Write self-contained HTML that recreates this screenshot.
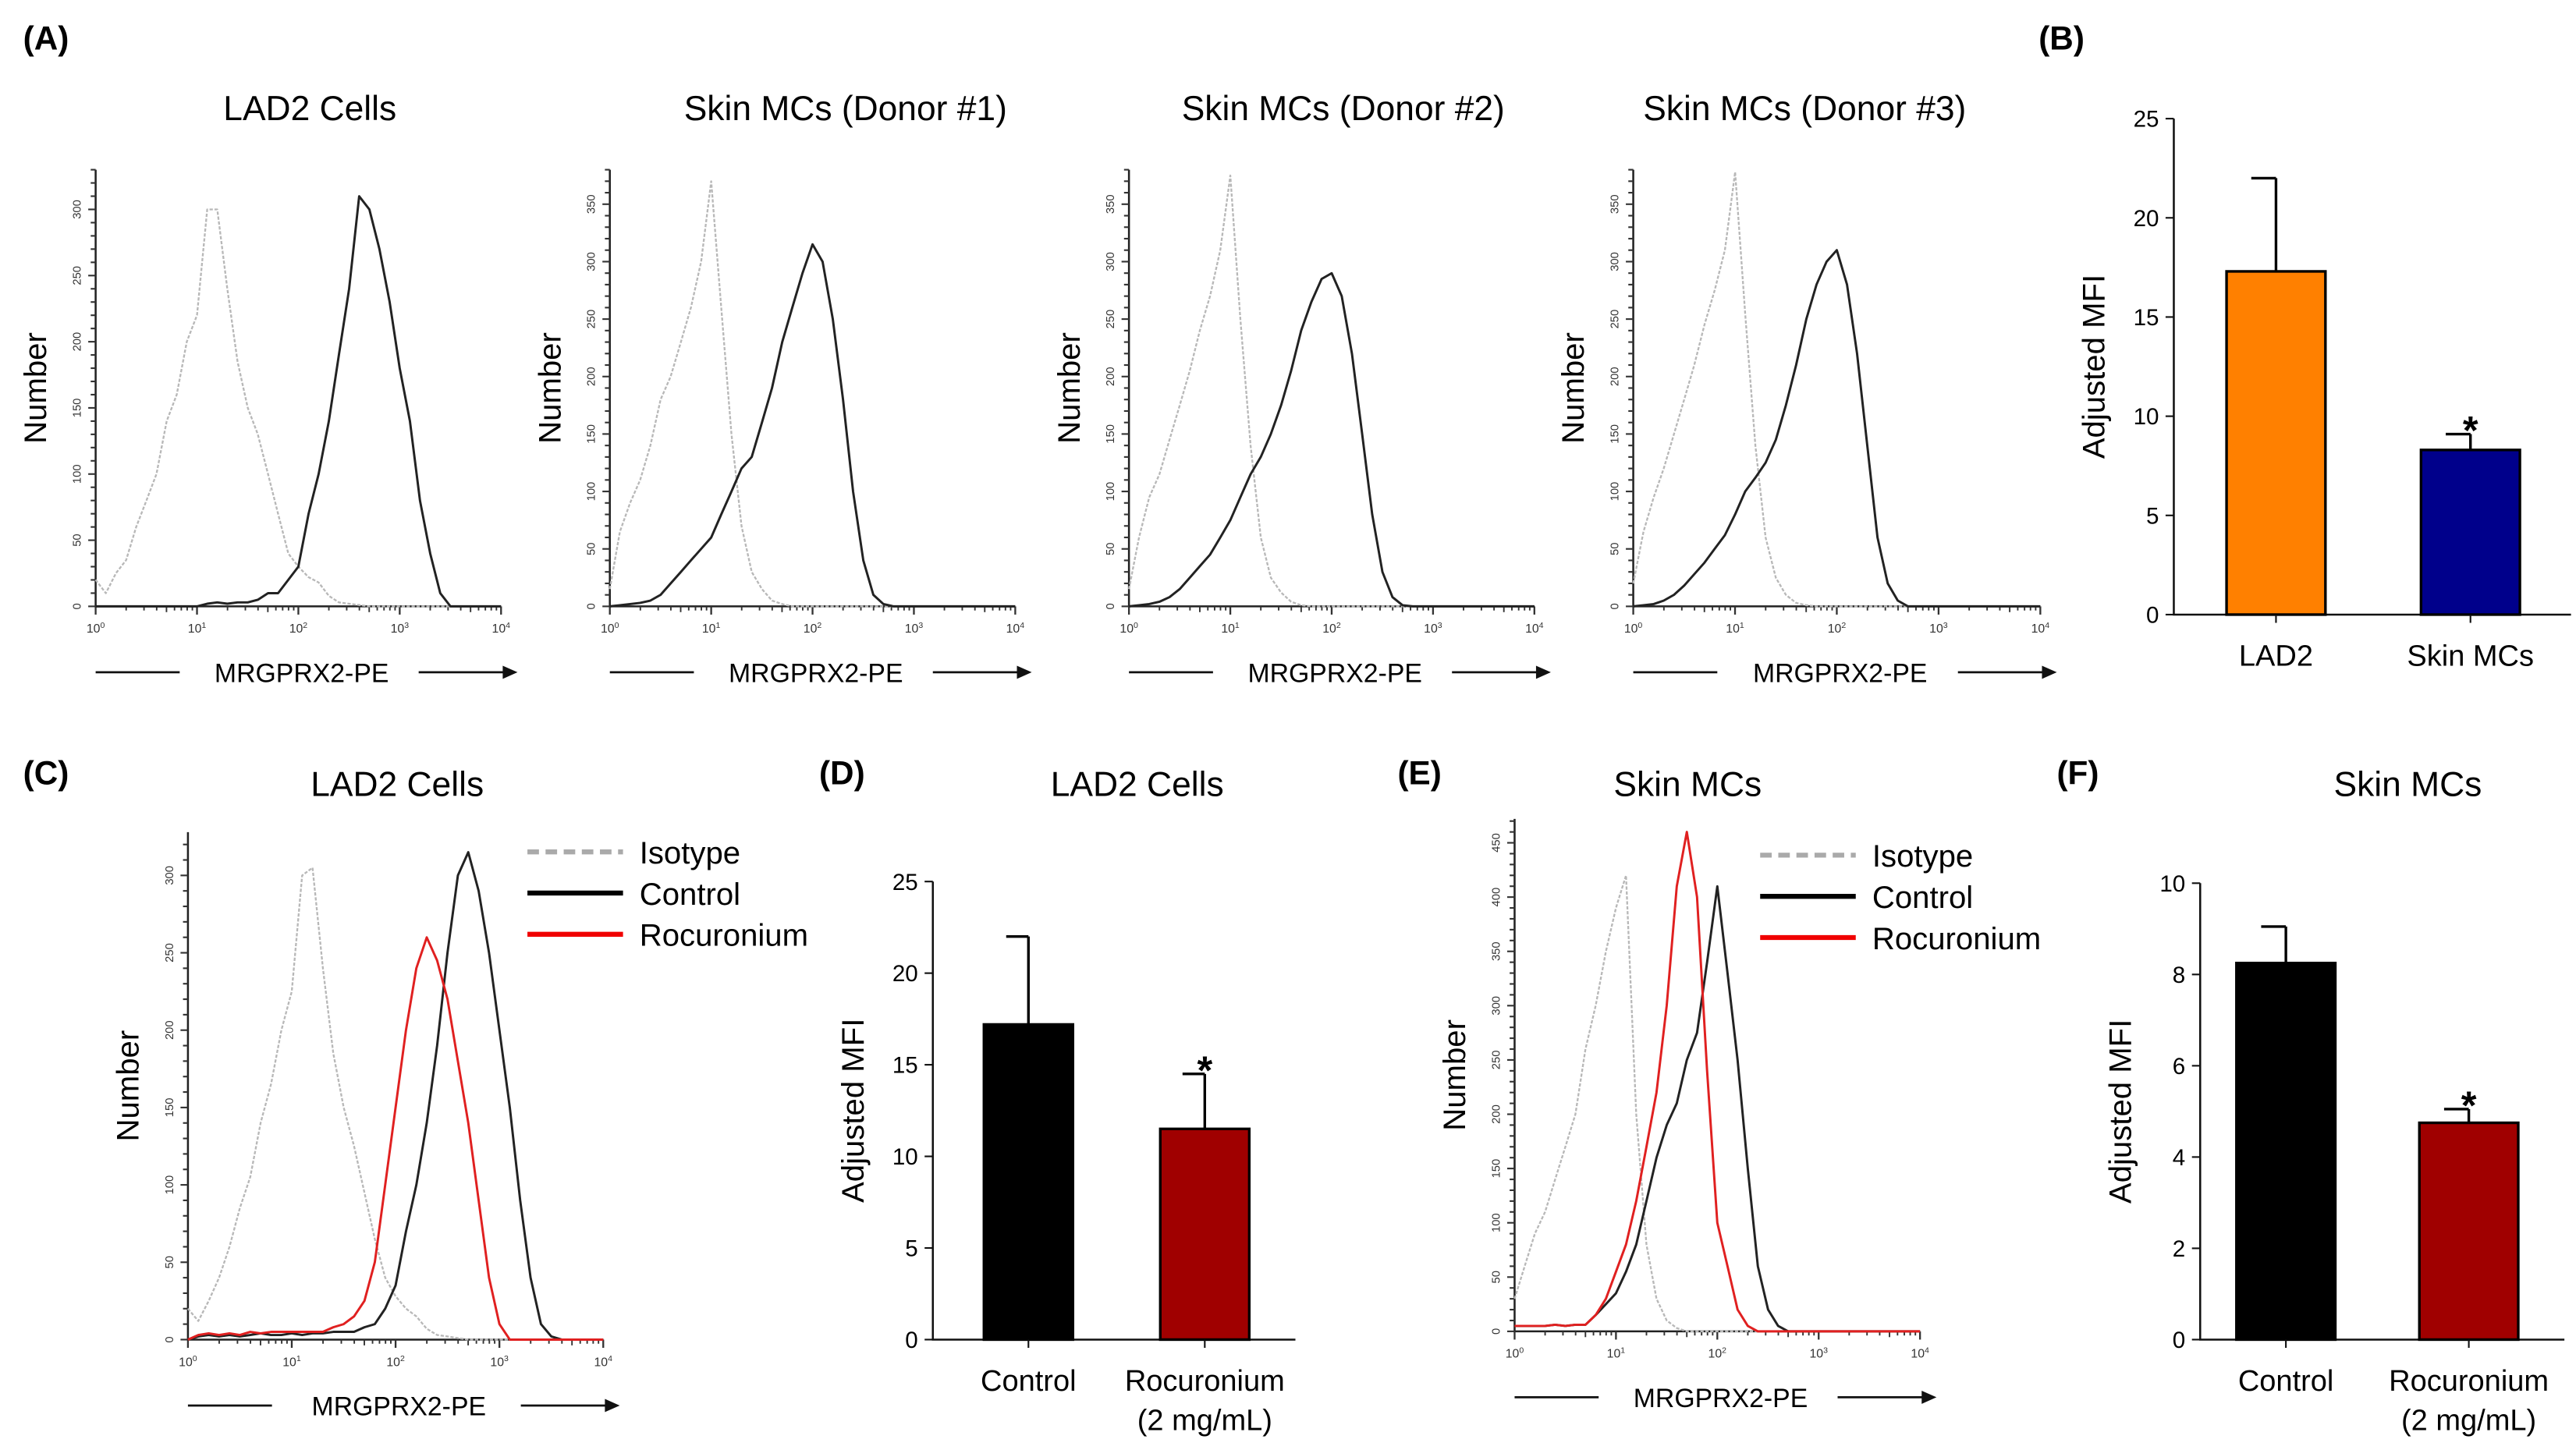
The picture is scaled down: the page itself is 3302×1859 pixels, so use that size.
<!DOCTYPE html>
<html><head><meta charset="utf-8"><title>MRGPRX2 figure</title>
<style>html,body{margin:0;padding:0;background:#fff}svg{display:block}text{font-family:"Liberation Sans",Arial,sans-serif}</style>
</head><body>
<svg id="fig" xmlns="http://www.w3.org/2000/svg" width="3302" height="1859" viewBox="0 0 1563 880">
<g id="static">
<text x="14" y="30" font-size="20" font-weight="bold">(A)</text>
<text x="1237" y="30" font-size="20" font-weight="bold">(B)</text>
<text x="14" y="476" font-size="20" font-weight="bold">(C)</text>
<text x="497" y="476" font-size="20" font-weight="bold">(D)</text>
<text x="848" y="476" font-size="20" font-weight="bold">(E)</text>
<text x="1248" y="476" font-size="20" font-weight="bold">(F)</text>
<text x="188" y="73" font-size="21" text-anchor="middle">LAD2 Cells</text>
<text x="513" y="73" font-size="21" text-anchor="middle">Skin MCs (Donor #1)</text>
<text x="815" y="73" font-size="21" text-anchor="middle">Skin MCs (Donor #2)</text>
<text x="1095" y="73" font-size="21" text-anchor="middle">Skin MCs (Donor #3)</text>
<text x="241" y="483" font-size="21" text-anchor="middle">LAD2 Cells</text>
<text x="690" y="483" font-size="21" text-anchor="middle">LAD2 Cells</text>
<text x="1024" y="483" font-size="21" text-anchor="middle">Skin MCs</text>
<text x="1461" y="483" font-size="21" text-anchor="middle">Skin MCs</text>
</g>
</svg>
<script>
const A1_iso=[20,10,25,35,60,80,100,140,160,200,220,300,300,240,185,150,130,100,70,40,30,22,18,8,3,2,1,0,0,0,0,0,0,0,0,0,0,0,0,0,0];
const A1_ctl=[0,0,0,0,0,0,0,0,0,0,0,2,3,2,3,3,5,10,10,20,30,70,100,140,190,240,310,300,270,230,180,140,80,40,10,0,0,0,0,0,0];
const A2_iso=[15,65,90,110,140,180,200,230,260,300,370,260,150,70,30,15,5,2,0,0,0,0,0,0,0,0,0,0,0,0,0,0,0,0,0,0,0,0,0,0,0];
const A2_ctl=[0,1,2,3,5,10,20,30,40,50,60,80,100,120,130,160,190,230,260,290,315,300,250,180,100,40,10,2,0,0,0,0,0,0,0,0,0,0,0,0,0];
const A3_iso=[15,60,95,115,145,175,205,240,270,310,375,250,140,60,25,12,4,1,0,0,0,0,0,0,0,0,0,0,0,0,0,0,0,0,0,0,0,0,0,0,0];
const A3_ctl=[0,1,2,4,8,15,25,35,45,60,75,95,115,130,150,175,205,240,265,285,290,270,220,150,80,30,8,1,0,0,0,0,0,0,0,0,0,0,0,0,0];
const A4_iso=[20,65,95,120,150,180,210,245,275,310,378,255,140,60,25,10,3,1,0,0,0,0,0,0,0,0,0,0,0,0,0,0,0,0,0,0,0,0,0,0,0];
const A4_ctl=[0,1,2,5,10,18,28,38,50,62,80,100,112,125,145,175,210,250,280,300,310,280,220,140,60,20,5,0,0,0,0,0,0,0,0,0,0,0,0,0,0];
const C_iso=[20,12,25,40,60,85,105,140,165,200,225,300,305,240,185,150,125,95,65,40,28,20,15,7,3,2,1,0,0,0,0,0,0,0,0,0,0,0,0,0,0];
const C_ctl=[0,2,3,2,3,2,3,4,3,3,4,3,4,4,5,5,5,8,10,20,35,70,100,140,190,250,300,315,290,250,200,150,90,40,10,2,0,0,0,0,0];
const C_roc=[0,3,4,3,4,3,5,4,5,5,5,5,5,5,8,10,15,25,50,100,150,200,240,260,245,220,180,140,90,40,10,0,0,0,0,0,0,0,0,0,0];
const E_iso=[30,60,90,110,140,170,200,260,300,350,390,420,200,80,30,10,3,0,0,0,0,0,0,0,0,0,0,0,0,0,0,0,0,0,0,0,0,0,0,0,0];
const E_ctl=[5,5,5,5,6,5,6,6,15,25,35,55,80,120,160,190,210,250,275,340,410,330,250,150,60,20,5,0,0,0,0,0,0,0,0,0,0,0,0,0,0];
const E_roc=[5,5,5,5,6,5,6,6,15,30,55,80,120,170,220,300,410,460,400,240,100,60,20,5,0,0,0,0,0,0,0,0,0,0,0,0,0,0,0,0,0];
const B_cats=["LAD2","Skin MCs"], B_vals=[17.3,8.3], B_errs=[4.7,0.8];
const D_cats=["Control","Rocuronium"], D_vals=[17.2,11.5], D_errs=[4.8,3.0];
const F_cats=["Control","Rocuronium"], F_vals=[8.25,4.75], F_errs=[0.8,0.3];
const B_ticks=[0,5,10,15,20,25], D_ticks=[0,5,10,15,20,25], F_ticks=[0,2,4,6,8,10];
const X_decades=[0,1,2,3,4];

const NS="http://www.w3.org/2000/svg", svg=document.getElementById('fig');
function mk(tag,attrs,parent,txt){const e=document.createElementNS(NS,tag);for(const k in attrs)e.setAttribute(k,attrs[k]);if(txt!==undefined)e.textContent=txt;(parent||svg).appendChild(e);return e;}

function hist(p){
  const g=mk('g',{});
  
  
  const dec=(p.x1-p.x0)/4, ppc=(p.base-p.top)/p.ymax;
  const X=l=>p.x0+l*dec, Y=v=>p.base-v*ppc;
  const ax=mk('path',{d:`M${p.x0},${p.top}V${p.base}H${p.x1}`,stroke:'#222','stroke-width':1.2,fill:'none'},g);
  
  
  for(let v=0;v<=p.ymax;v+=10){const maj=v%50===0;mk('line',{x1:p.x0-(maj?4.5:3),x2:p.x0,y1:Y(v),y2:Y(v),stroke:'#333','stroke-width':1},g);
    if(maj){const t=mk('text',{x:0,y:0,'font-size':7,'text-anchor':'middle',fill:'#333',transform:`translate(${p.x0-9},${Y(v)}) rotate(-90)`},g,String(v));
      
      }}
  X_decades.forEach(d=>{mk('line',{x1:X(d),x2:X(d),y1:p.base,y2:p.base+5,stroke:'#333','stroke-width':1.1},g);
    const t=mk('text',{x:X(d),y:p.base+16,'font-size':7.5,'text-anchor':'middle',fill:'#333'},g);
    
    
    mk('tspan',{},t,'10');mk('tspan',{dy:-3,'font-size':5},t,String(d));
    if(d<4)for(let m=2;m<10;m++){const xx=X(d+Math.log10(m));mk('line',{x1:xx,x2:xx,y1:p.base,y2:p.base+(m===5?3.5:2.5),stroke:'#333','stroke-width':0.9},g);}});
  const yl=mk('text',{x:0,y:0,'font-size':19,'text-anchor':'middle',transform:`translate(${p.x0-30},${(p.base+p.top)/2}) rotate(-90)`},g,'Number');
  
  
  const ly=p.base+40;
  mk('line',{x1:p.x0,x2:p.x0+51,y1:ly,y2:ly,stroke:'#111','stroke-width':1.3},g);
  mk('line',{x1:p.x1-50,x2:p.x1+2,y1:ly,y2:ly,stroke:'#111','stroke-width':1.3},g);
  mk('path',{d:`M${p.x1+10},${ly}l-9,-4v8z`,fill:'#111'},g);
  const xl=mk('text',{x:(p.x0+p.x1)/2+2,y:ly+6,'font-size':16,'text-anchor':'middle'},g,'MRGPRX2-PE');
  
  
  p.series.forEach(s=>{const pts=s.vals.map((v,i)=>`${X(i*0.1).toFixed(1)},${Y(v).toFixed(1)}`).join(' ');
    const pl=mk('polyline',{points:pts,fill:'none',stroke:s.color,'stroke-width':s.w,'stroke-dasharray':s.dash||'none','stroke-linejoin':'round'},g);
    
    });
  if(p.legend){p.legend.forEach((L,i)=>{const yy=p.legend.y0+i*25;
    const le=mk('g',{},g);
    
    
    mk('line',{x1:p.legend.x,x2:p.legend.x+58,y1:yy,y2:yy,stroke:L.color,'stroke-width':3,'stroke-dasharray':L.dash||'none'},le);
    mk('text',{x:p.legend.x+68,y:yy+7,'font-size':19},le,L.label);});}
}
const iso={color:'#b8b8b8',w:1.1,dash:'2,1',name:'isotype-curve'}, ctl={color:'#222',w:1.4,name:'control-curve'}, roc={color:'#e02020',w:1.4,name:'rocuronium-curve'};
hist({name:'hist-a-lad2',x0:58,x1:304,base:368,top:103,ymax:330,series:[{...iso,vals:A1_iso},{...ctl,vals:A1_ctl}]});
hist({name:'hist-a-donor1',x0:370,x1:616,base:368,top:103,ymax:380,series:[{...iso,vals:A2_iso},{...ctl,vals:A2_ctl}]});
hist({name:'hist-a-donor2',x0:685,x1:931,base:368,top:103,ymax:380,series:[{...iso,vals:A3_iso},{...ctl,vals:A3_ctl}]});
hist({name:'hist-a-donor3',x0:991,x1:1238,base:368,top:103,ymax:380,series:[{...iso,vals:A4_iso},{...ctl,vals:A4_ctl}]});
const legC=[{label:'Isotype',color:'#aaa',dash:'7,4'},{label:'Control',color:'#000'},{label:'Rocuronium',color:'#f00000'}];
legC.x=320;legC.y0=517;
hist({name:'hist-c-lad2',x0:114,x1:366,base:813,top:505,ymax:328,series:[{...iso,vals:C_iso},{...ctl,vals:C_ctl},{...roc,vals:C_roc}],legend:legC});
const legE=[{label:'Isotype',color:'#aaa',dash:'7,4'},{label:'Control',color:'#000'},{label:'Rocuronium',color:'#f00000'}];
legE.x=1068;legE.y0=519;
hist({name:'hist-e-skin',x0:919,x1:1165,base:808,top:497,ymax:472,series:[{...iso,vals:E_iso},{...ctl,vals:E_ctl},{...roc,vals:E_roc}],legend:legE});

function bars(p){
  const g=mk('g',{});
  
  
  const ymax=p.ticks[p.ticks.length-1], Y=v=>p.base-v*(p.base-p.top)/ymax;
  mk('path',{d:`M${p.x0},${p.top}V${p.base}H${p.x1}`,stroke:'#111','stroke-width':1.2,fill:'none'},g);
  p.ticks.forEach(t=>{mk('line',{x1:p.x0-5,x2:p.x0,y1:Y(t),y2:Y(t),stroke:'#111','stroke-width':1},g);
    const tl=mk('text',{x:p.x0-9,y:Y(t)+5,'font-size':14,'text-anchor':'end'},g,String(t));
    
    });
  const yl=mk('text',{x:0,y:0,'font-size':19,'text-anchor':'middle',transform:`translate(${p.x0-42},${(p.base+p.top)/2}) rotate(-90)`},g,'Adjusted MFI');
  
  
  p.cats.forEach((c,i)=>{const cx=p.cx[i], bw=p.bw, v=p.vals[i], e=p.errs[i];
    const r=mk('rect',{x:cx-bw/2,y:Y(v),width:bw,height:p.base-Y(v),fill:p.colors[i],stroke:'#000','stroke-width':1.6},g);
    
    
    mk('path',{d:`M${cx},${Y(v)}V${Y(v+e)}M${cx-bw/4},${Y(v+e)}H${cx}`,stroke:'#000','stroke-width':1.6,fill:'none'},g);
    mk('line',{x1:cx,x2:cx,y1:p.base,y2:p.base+5,stroke:'#111','stroke-width':1},g);
    const cl=mk('text',{x:cx,y:p.base+31,'font-size':18,'text-anchor':'middle'},g,c);
    
    
    if(p.sub&&i===1)mk('text',{x:cx,y:p.base+55,'font-size':18,'text-anchor':'middle'},g,'(2 mg/mL)');
    if(i===1){const s=mk('text',{x:cx,y:Y(v+e)+6,'font-size':24,'font-weight':'bold','text-anchor':'middle'},g,'*');
      
      }});
}
bars({name:'bar-chart-b',x0:1319,x1:1560,base:373,top:72,ticks:B_ticks,cats:B_cats,vals:B_vals,errs:B_errs,cx:[1381,1499],bw:60,colors:['#ff8000','#00008b']});
bars({name:'bar-chart-d',x0:566,x1:786,base:813,top:535,ticks:D_ticks,cats:D_cats,vals:D_vals,errs:D_errs,cx:[624,731],bw:54,colors:['#000','#a00000'],sub:true});
bars({name:'bar-chart-f',x0:1335,x1:1556,base:813,top:536,ticks:F_ticks,cats:F_cats,vals:F_vals,errs:F_errs,cx:[1387,1498],bw:60,colors:['#000','#a00000'],sub:true});
</script>
</body></html>
